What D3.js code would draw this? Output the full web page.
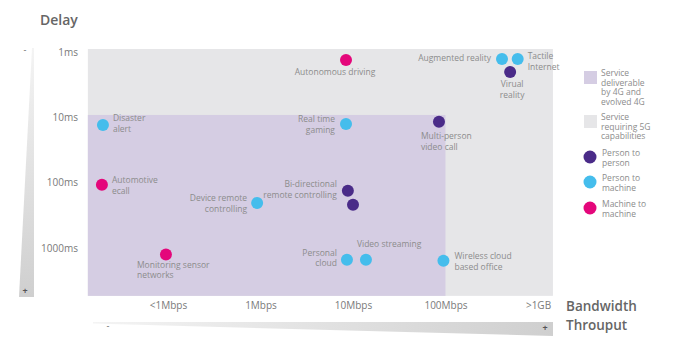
<!DOCTYPE html>
<html>
<head>
<meta charset="utf-8">
<script src="https://cdn.jsdelivr.net/npm/d3@7/dist/d3.min.js"></script>
<style>
  html, body { margin: 0; padding: 0; background: #fff; }
  svg { display: block; font-family: "Open Sans", "Noto Sans", sans-serif; }
</style>
</head>
<body>
<svg id="chart" width="677" height="356"></svg>
<script>
// ---------- DATA ----------
const xTickValues = [0.1, 1, 10, 100, 1000];           // Mbps
const xTickLabels = ["<1Mbps", "1Mbps", "10Mbps", "100Mbps", ">1GB"];
const yTickValues = [1, 10, 100, 1000];                // ms
const yTickLabels = ["1ms", "10ms", "100ms", "1000ms"];

const categories = ["Person to person", "Person to machine", "Machine to machine"];
const categoryColors = ["#4a2b88", "#45bdec", "#e4077b"];

const serviceNames = [
  "Autonomous driving", "Augmented reality", "Tactile internet", "Virual reality",
  "Disaster alert", "Real time gaming", "Multi-person video call",
  "Automotive ecall", "Bi-directional remote controlling", "Bi-directional remote controlling 2",
  "Device remote controlling", "Monitoring sensor networks", "Personal cloud",
  "Video streaming", "Wireless cloud based office"
];
const serviceBandwidth = [8.4, 408, 603, 500, 0.0198, 8.4, 85, 0.0193, 8.8, 10, 0.92, 0.095, 8.6, 13.8, 95];
const serviceDelay     = [1.33, 1.28, 1.28, 2.02, 13.1, 12.6, 11.7, 108, 133, 218, 204, 1260, 1510, 1510, 1570];
const serviceCategory  = [2, 1, 1, 0, 1, 1, 0, 2, 0, 0, 1, 2, 1, 1, 1];

// zones (bandwidth range Mbps, delay range ms)
const zoneNames = ["Service requiring 5G capabilities", "Service deliverable by 4G and evolved 4G"];
const zoneBandwidth = [[0.0136, 1450], [0.0136, 100]];
const zoneDelay = [[0.9, 5400], [9.2, 5400]];
const zoneColors = ["#e6e6e8", "#d5cde3"];

// ---------- LABEL LAYOUT ----------
const labelLayout = [
  { lines: ["Autonomous driving"], dx: -11, dy: 13, anchor: "middle" },
  { lines: ["Augmented reality"], dx: -11, dy: 0, anchor: "end" },
  { lines: ["Tactile", "Internet"], dx: 10, dy: -2, anchor: "start" },
  { lines: ["Virual", "reality"], dx: 2, dy: 13, anchor: "middle" },
  { lines: ["Disaster", "alert"], dx: 10, dy: -6, anchor: "start" },
  { lines: ["Real time", "gaming"], dx: -11, dy: -4, anchor: "end" },
  { lines: ["Multi-person", "video call"], dx: -18, dy: 15, anchor: "start" },
  { lines: ["Automotive", "ecall"], dx: 10, dy: -4, anchor: "start" },
  { lines: ["Bi-directional", "remote controlling"], dx: -11, dy: -6, anchor: "end" },
  { lines: [], dx: 0, dy: 0, anchor: "start" },
  { lines: ["Device remote", "controlling"], dx: -10, dy: -4, anchor: "end" },
  { lines: ["Monitoring sensor", "networks"], dx: -29, dy: 11, anchor: "start" },
  { lines: ["Personal", "cloud"], dx: -10, dy: -6, anchor: "end" },
  { lines: ["Video streaming"], dx: -9, dy: -15, anchor: "start" },
  { lines: ["Wireless cloud", "based office"], dx: 11, dy: -4, anchor: "start" }
];

// ---------- CHART ----------
const svg = d3.select("#chart");
const textGray = "#8c8c8c";
const tickGray = "#7a7a7a";

const x = d3.scaleLog().domain([0.1, 1000]).range([168, 538]);
const y = d3.scaleLog().domain([1, 1000]).range([52, 248]);

// zones
svg.append("g").selectAll("rect").data(zoneNames).join("rect")
  .attr("x", (d, i) => x(zoneBandwidth[i][0]))
  .attr("width", (d, i) => x(zoneBandwidth[i][1]) - x(zoneBandwidth[i][0]))
  .attr("y", (d, i) => y(zoneDelay[i][0]))
  .attr("height", (d, i) => Math.min(296, y(zoneDelay[i][1])) - y(zoneDelay[i][0]))
  .attr("fill", (d, i) => zoneColors[i]);

// axes
const xAxis = d3.axisBottom(x).tickValues(xTickValues)
  .tickFormat((d, i) => xTickLabels[i]).tickSize(0).tickPadding(0);
const gx = svg.append("g").attr("transform", "translate(0,302)").call(xAxis);
gx.select(".domain").remove();
gx.selectAll("text").attr("fill", tickGray).attr("font-size", 10)
  .attr("font-family", "'Open Sans', sans-serif").attr("dy", "0.71em");

const yAxis = d3.axisLeft(y).tickValues(yTickValues)
  .tickFormat((d, i) => yTickLabels[i]).tickSize(0).tickPadding(0);
const gy = svg.append("g").attr("transform", "translate(78,0)").call(yAxis);
gy.select(".domain").remove();
gy.selectAll("text").attr("fill", tickGray).attr("font-size", 10)
  .attr("font-family", "'Open Sans', sans-serif");

// axis titles
svg.append("text").attr("x", 40).attr("y", 25).text("Delay")
  .attr("font-size", 14).attr("font-weight", 600).attr("fill", "#666");
svg.append("text").attr("x", 566).attr("y", 311).text("Bandwidth")
  .attr("font-size", 13.5).attr("font-weight", 600).attr("fill", "#666");
svg.append("text").attr("x", 566).attr("y", 330).text("Throuput")
  .attr("font-size", 13.5).attr("font-weight", 600).attr("fill", "#666");

// wedges
const defs = svg.append("defs");
const gv = defs.append("linearGradient").attr("id", "gv").attr("x1", 0).attr("y1", 0).attr("x2", 0).attr("y2", 1);
gv.append("stop").attr("offset", "0%").attr("stop-color", "#f4f4f4");
gv.append("stop").attr("offset", "100%").attr("stop-color", "#cfcfcf");
const gh = defs.append("linearGradient").attr("id", "gh").attr("x1", 0).attr("y1", 0).attr("x2", 1).attr("y2", 0);
gh.append("stop").attr("offset", "0%").attr("stop-color", "#f4f4f4");
gh.append("stop").attr("offset", "100%").attr("stop-color", "#cfcfcf");

svg.append("path").attr("d", "M32,48 L34,48 L34,297 L19,297 Z").attr("fill", "url(#gv)");
svg.append("path").attr("d", "M93,322 L553,322 L553,336 L93,323.5 Z").attr("fill", "url(#gh)");
svg.append("text").attr("x", 25).attr("y", 53).attr("text-anchor", "middle").text("-")
  .attr("font-size", 9).attr("fill", "#666");
svg.append("text").attr("x", 25).attr("y", 294).attr("text-anchor", "middle").text("+")
  .attr("font-size", 9).attr("font-weight", 700).attr("fill", "#555");
svg.append("text").attr("x", 108).attr("y", 329).attr("text-anchor", "middle").text("-")
  .attr("font-size", 9).attr("fill", "#666");
svg.append("text").attr("x", 545).attr("y", 331).attr("text-anchor", "middle").text("+")
  .attr("font-size", 9).attr("font-weight", 700).attr("fill", "#555");

// points
svg.append("g").selectAll("circle").data(serviceNames).join("circle")
  .attr("cx", (d, i) => x(serviceBandwidth[i]))
  .attr("cy", (d, i) => y(serviceDelay[i]))
  .attr("r", 6)
  .attr("fill", (d, i) => categoryColors[serviceCategory[i]]);

// labels
const lg = svg.append("g").attr("font-size", 8.5).attr("fill", textGray);
serviceNames.forEach((d, i) => {
  const L = labelLayout[i];
  const cx = x(serviceBandwidth[i]), cy = y(serviceDelay[i]);
  L.lines.forEach((line, j) => {
    lg.append("text").attr("x", cx + L.dx).attr("y", cy + L.dy + j * 10.5)
      .attr("dominant-baseline", "middle").attr("text-anchor", L.anchor).text(line);
  });
});

// legend
const leg = svg.append("g").attr("font-size", 8.5).attr("fill", textGray);
const zoneLegendLines = [["Service", "deliverable", "by 4G and", "evolved 4G"], ["Service", "requiring 5G", "capabilities"]];
const zoneLegendOrder = [1, 0];
const zoneLegendY = [71, 115];
zoneLegendOrder.forEach((zi, k) => {
  leg.append("rect").attr("x", 584).attr("y", zoneLegendY[k]).attr("width", 13).attr("height", 13)
    .attr("fill", zoneColors[zi]);
  zoneLegendLines[k].forEach((line, j) => {
    leg.append("text").attr("x", 601).attr("y", zoneLegendY[k] + 3 + j * 9.5)
      .attr("dominant-baseline", "middle").text(line);
  });
});
const catLegendLines = [["Person to", "person"], ["Person to", "machine"], ["Machine to", "machine"]];
const catLegendY = [157, 182, 208];
categories.forEach((c, i) => {
  leg.append("circle").attr("cx", 590).attr("cy", catLegendY[i]).attr("r", 6.5).attr("fill", categoryColors[i]);
  catLegendLines[i].forEach((line, j) => {
    leg.append("text").attr("x", 602).attr("y", catLegendY[i] - 3 + j * 10)
      .attr("dominant-baseline", "middle").text(line);
  });
});
</script>
</body>
</html>
